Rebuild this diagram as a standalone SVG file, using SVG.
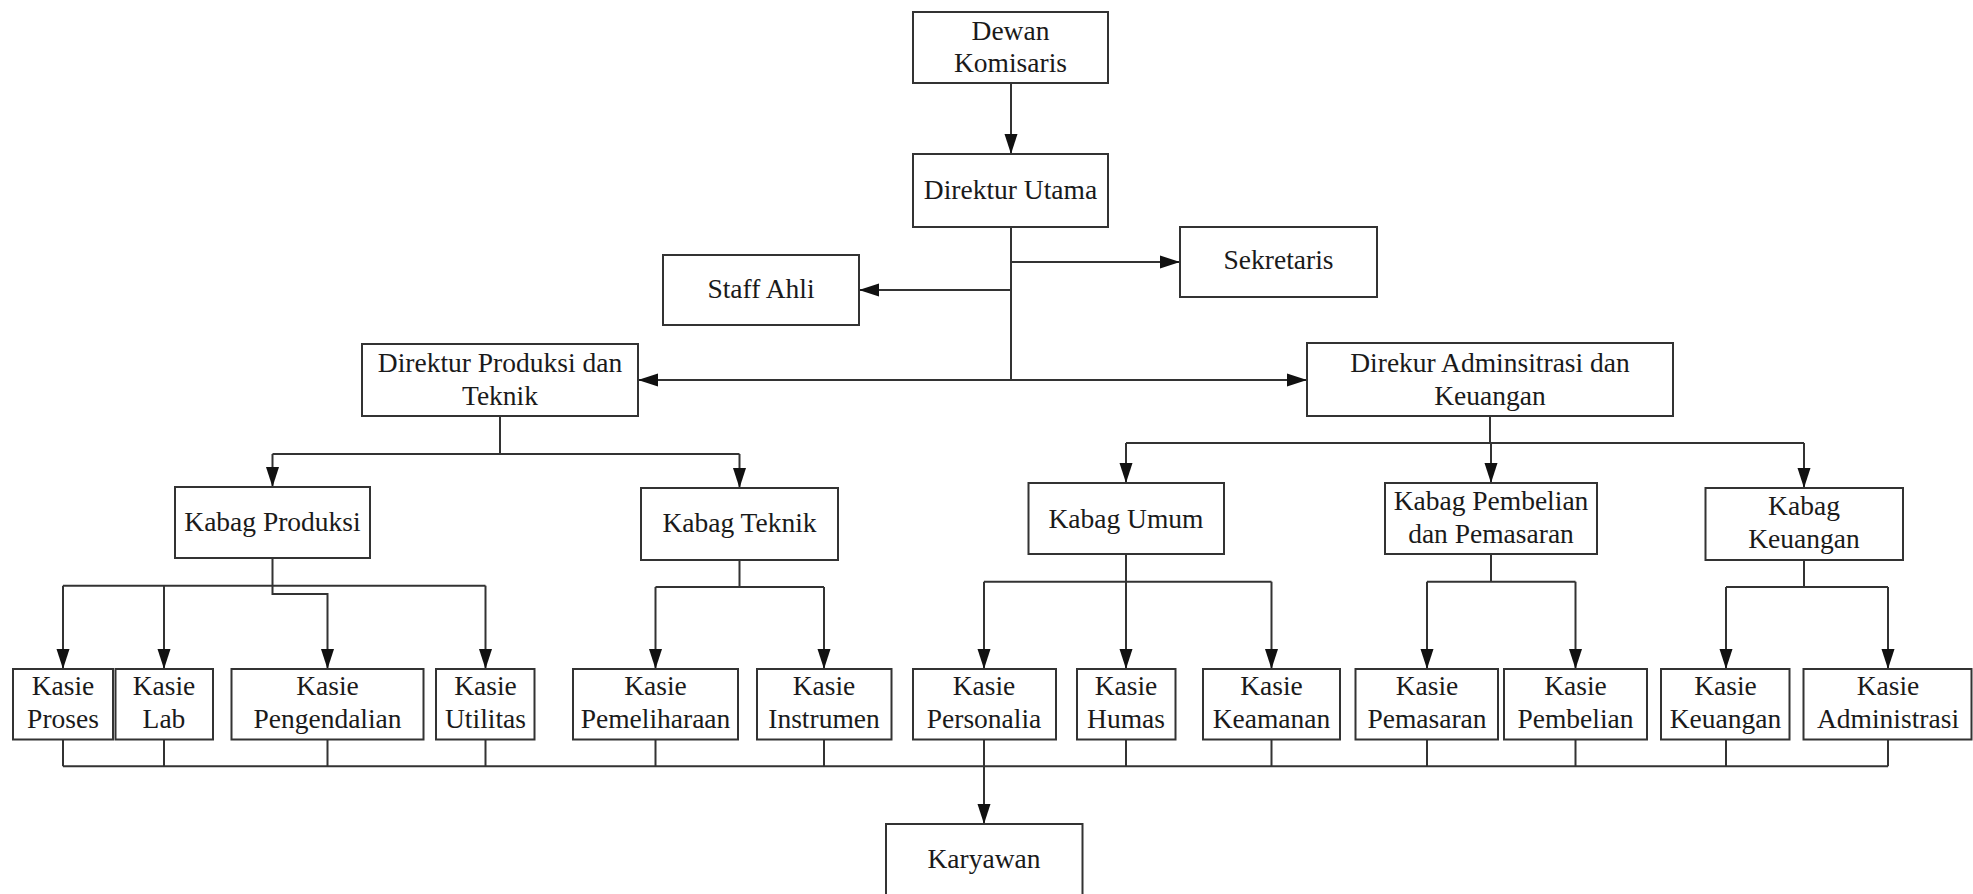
<svg xmlns="http://www.w3.org/2000/svg" width="1973" height="894" viewBox="0 0 1973 894">
  <style>
    .box { fill: #ffffff; stroke: #333333; stroke-width: 2; }
    .lbl { font-family: "Liberation Serif", "Times New Roman", serif; font-size: 27.5px; fill: #1a1a1a; text-anchor: middle; }
    .wire { fill: none; stroke: #333333; stroke-width: 2; }
    .arr { fill: none; stroke: #333333; stroke-width: 2; marker-end: url(#head); }
  </style>
  <defs>
    <marker id="head" markerUnits="userSpaceOnUse" markerWidth="20" markerHeight="14" refX="20" refY="7" orient="auto">
      <path d="M0,0.5 L20,7 L0,13.5 Z" fill="#111111"/>
    </marker>
  </defs>
  <rect width="1973" height="894" fill="#ffffff"/>

  <!-- connectors -->
  <g id="connectors">
    <!-- top level -->
    <path class="arr" d="M1011,83 V154"/>
    <path class="wire" d="M1011,227 V380"/>
    <path class="arr" d="M1011,262 H1180"/>
    <path class="arr" d="M1011,290 H859"/>
    <path class="arr" d="M1011,380 H638"/>
    <path class="arr" d="M1011,380 H1307"/>

    <!-- production & engineering branch -->
    <path class="wire" d="M500,416 V454 M272.5,454 H739.5"/>
    <path class="arr" d="M272.5,454 V487"/>
    <path class="arr" d="M739.5,454 V488"/>

    <path class="wire" d="M63,585.7 H485.5"/>
    <path class="arr" d="M63,585.7 V669"/>
    <path class="arr" d="M164,585.7 V669"/>
    <path class="arr" d="M485.5,585.7 V669"/>
    <path class="arr" d="M272.5,558 V594 H327.5 V669"/>

    <path class="wire" d="M739.5,560 V587 M655.5,587 H824"/>
    <path class="arr" d="M655.5,587 V669"/>
    <path class="arr" d="M824,587 V669"/>

    <!-- administration & finance branch -->
    <path class="wire" d="M1490,416 V443 M1126,443 H1804"/>
    <path class="arr" d="M1126,443 V483"/>
    <path class="arr" d="M1491,443 V483"/>
    <path class="arr" d="M1804,443 V488"/>

    <path class="wire" d="M984,581.7 H1271.5"/>
    <path class="arr" d="M1126,554 V669"/>
    <path class="arr" d="M984,581.7 V669"/>
    <path class="arr" d="M1271.5,581.7 V669"/>

    <path class="wire" d="M1491,554 V581.7 M1427,581.7 H1575.5"/>
    <path class="arr" d="M1427,581.7 V669"/>
    <path class="arr" d="M1575.5,581.7 V669"/>

    <path class="wire" d="M1804,560 V587 M1726,587 H1888"/>
    <path class="arr" d="M1726,587 V669"/>
    <path class="arr" d="M1888,587 V669"/>

    <!-- section heads to staff -->
    <path class="wire" d="M63,739.5 V766.3 M164,739.5 V766.3 M327.5,739.5 V766.3 M485.5,739.5 V766.3 M655.5,739.5 V766.3 M824,739.5 V766.3 M1126,739.5 V766.3 M1271.5,739.5 V766.3 M1427,739.5 V766.3 M1575.5,739.5 V766.3 M1726,739.5 V766.3 M1888,739.5 V766.3"/>
    <path class="wire" d="M63,766.3 H1888"/>
    <path class="arr" d="M984,739.5 V824"/>
  </g>

  <g id="dewan-komisaris">
    <rect class="box" x="913" y="12" width="195" height="71"/>
    <text class="lbl" x="1010.5" y="39.5">Dewan</text>
    <text class="lbl" x="1010.5" y="72">Komisaris</text>
  </g>
  <g id="direktur-utama">
    <rect class="box" x="913" y="154" width="195" height="73"/>
    <text class="lbl" x="1010.5" y="199">Direktur Utama</text>
  </g>
  <g id="sekretaris">
    <rect class="box" x="1180" y="227" width="197" height="70"/>
    <text class="lbl" x="1278.5" y="269">Sekretaris</text>
  </g>
  <g id="staff-ahli">
    <rect class="box" x="663" y="255" width="196" height="70"/>
    <text class="lbl" x="761" y="297.5">Staff Ahli</text>
  </g>
  <g id="direktur-produksi">
    <rect class="box" x="362" y="344" width="276" height="72"/>
    <text class="lbl" x="500" y="371.5">Direktur Produksi dan</text>
    <text class="lbl" x="500" y="405">Teknik</text>
  </g>
  <g id="direktur-administrasi">
    <rect class="box" x="1307" y="343" width="366" height="73"/>
    <text class="lbl" x="1490" y="371.5">Direkur Adminsitrasi dan</text>
    <text class="lbl" x="1490" y="405">Keuangan</text>
  </g>

  <g id="kabag-produksi">
    <rect class="box" x="175" y="487" width="195" height="71"/>
    <text class="lbl" x="272.5" y="531">Kabag Produksi</text>
  </g>
  <g id="kabag-teknik">
    <rect class="box" x="641" y="488" width="197" height="72"/>
    <text class="lbl" x="739.5" y="531.5">Kabag Teknik</text>
  </g>
  <g id="kabag-umum">
    <rect class="box" x="1028.5" y="483" width="195.5" height="71"/>
    <text class="lbl" x="1126" y="528">Kabag Umum</text>
  </g>
  <g id="kabag-pembelian">
    <rect class="box" x="1385" y="483" width="212" height="71"/>
    <text class="lbl" x="1491" y="510">Kabag Pembelian</text>
    <text class="lbl" x="1491" y="542.5">dan Pemasaran</text>
  </g>
  <g id="kabag-keuangan">
    <rect class="box" x="1705.5" y="488" width="197.5" height="72"/>
    <text class="lbl" x="1804" y="515">Kabag</text>
    <text class="lbl" x="1804" y="548">Keuangan</text>
  </g>

  <g id="kasie-proses">
    <rect class="box" x="13" y="669" width="100" height="70.5"/>
    <text class="lbl" x="63" y="695">Kasie</text>
    <text class="lbl" x="63" y="728">Proses</text>
  </g>
  <g id="kasie-lab">
    <rect class="box" x="115.5" y="669" width="97.5" height="70.5"/>
    <text class="lbl" x="164" y="695">Kasie</text>
    <text class="lbl" x="164" y="728">Lab</text>
  </g>
  <g id="kasie-pengendalian">
    <rect class="box" x="231.5" y="669" width="192" height="70.5"/>
    <text class="lbl" x="327.5" y="695">Kasie</text>
    <text class="lbl" x="327.5" y="728">Pengendalian</text>
  </g>
  <g id="kasie-utilitas">
    <rect class="box" x="436" y="669" width="98.5" height="70.5"/>
    <text class="lbl" x="485.5" y="695">Kasie</text>
    <text class="lbl" x="485.5" y="728">Utilitas</text>
  </g>
  <g id="kasie-pemeliharaan">
    <rect class="box" x="573" y="669" width="165" height="70.5"/>
    <text class="lbl" x="655.5" y="695">Kasie</text>
    <text class="lbl" x="655.5" y="728">Pemeliharaan</text>
  </g>
  <g id="kasie-instrumen">
    <rect class="box" x="757" y="669" width="134.5" height="70.5"/>
    <text class="lbl" x="824" y="695">Kasie</text>
    <text class="lbl" x="824" y="728">Instrumen</text>
  </g>
  <g id="kasie-personalia">
    <rect class="box" x="913" y="669" width="143" height="70.5"/>
    <text class="lbl" x="984" y="695">Kasie</text>
    <text class="lbl" x="984" y="728">Personalia</text>
  </g>
  <g id="kasie-humas">
    <rect class="box" x="1077" y="669" width="98.5" height="70.5"/>
    <text class="lbl" x="1126" y="695">Kasie</text>
    <text class="lbl" x="1126" y="728">Humas</text>
  </g>
  <g id="kasie-keamanan">
    <rect class="box" x="1203" y="669" width="137" height="70.5"/>
    <text class="lbl" x="1271.5" y="695">Kasie</text>
    <text class="lbl" x="1271.5" y="728">Keamanan</text>
  </g>
  <g id="kasie-pemasaran">
    <rect class="box" x="1355.5" y="669" width="142.5" height="70.5"/>
    <text class="lbl" x="1427" y="695">Kasie</text>
    <text class="lbl" x="1427" y="728">Pemasaran</text>
  </g>
  <g id="kasie-pembelian">
    <rect class="box" x="1504" y="669" width="143" height="70.5"/>
    <text class="lbl" x="1575.5" y="695">Kasie</text>
    <text class="lbl" x="1575.5" y="728">Pembelian</text>
  </g>
  <g id="kasie-keuangan">
    <rect class="box" x="1661" y="669" width="128.5" height="70.5"/>
    <text class="lbl" x="1725.5" y="695">Kasie</text>
    <text class="lbl" x="1725.5" y="728">Keuangan</text>
  </g>
  <g id="kasie-administrasi">
    <rect class="box" x="1803.5" y="669" width="168" height="70.5"/>
    <text class="lbl" x="1888" y="695">Kasie</text>
    <text class="lbl" x="1888" y="728">Administrasi</text>
  </g>

  <g id="karyawan">
    <rect class="box" x="886" y="824" width="196.5" height="80"/>
    <text class="lbl" x="984" y="868">Karyawan</text>
  </g>
</svg>
